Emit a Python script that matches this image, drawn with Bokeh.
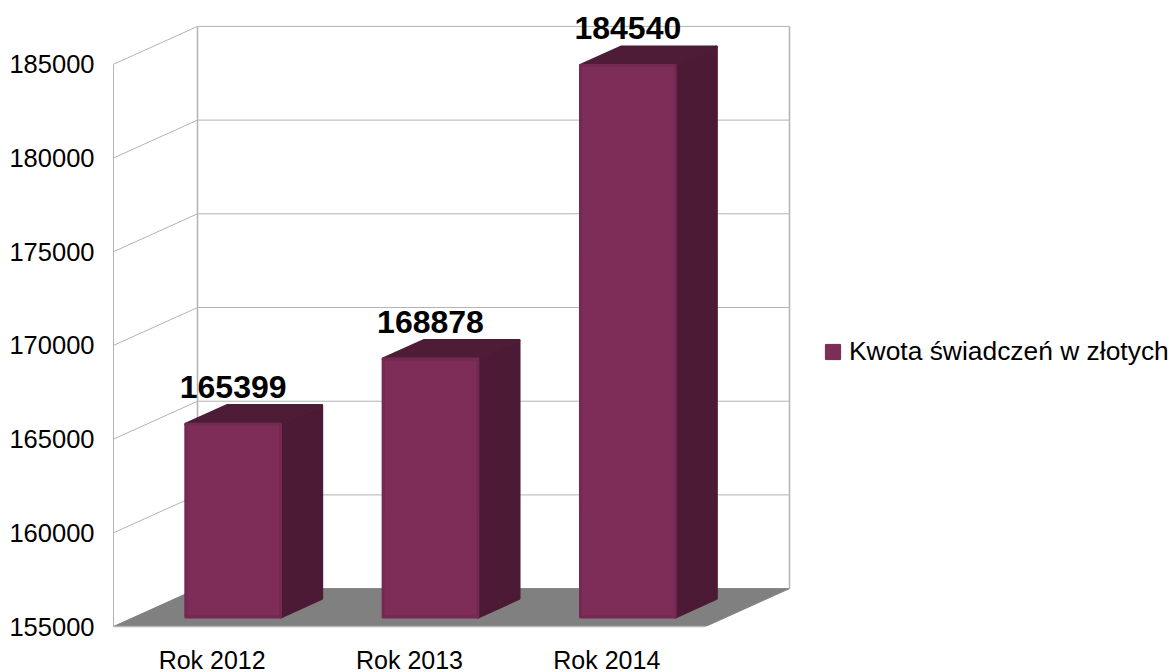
from bokeh.plotting import figure
from bokeh.embed import file_html
from bokeh.resources import INLINE
from bokeh.models import Range1d, FixedTicker, Legend, LegendItem, ColumnDataSource
from bokeh.core.properties import value

years = ["Rok 2012", "Rok 2013", "Rok 2014"]
amounts = [165399, 168878, 184540]
y_ticks = [155000, 160000, 165000, 170000, 175000, 180000, 185000]
series_name = "Kwota świadczeń w złotych"

FONT = "Liberation Sans"
W, H = 1173, 676
LEFT, BOTTOM = 113, 48          # frame insets, px
PX_CAT, PX_VAL = 592 / 3, 94 / 5000   # px per category, px per value unit
DX, DY = 84 / PX_CAT, 38 / PX_VAL     # oblique depth vector
GRID, FLOOR = "#b3b3b3", "#808080"
FRONT, SIDE, TOP, EDGE = "#7e2c58", "#4c1a35", "#4f1c38", "#742950"
BAR_W = 0.48
D0, D1 = 0.25, 0.74
STROKE_Y = 2 / PX_VAL           # keeps the rounded stroke inside the bar's value

base = y_ticks[0]
xmax = (W - LEFT) / PX_CAT
ymax = base + (H - BOTTOM) / PX_VAL
n = len(years)

p = figure(width=W, height=H, output_backend="svg", toolbar_location=None,
           x_range=Range1d(0, xmax), y_range=Range1d(base, ymax),
           min_border_left=LEFT, min_border_bottom=BOTTOM, min_border_right=0, min_border_top=0,
           outline_line_color=None, margin=(0, 0, -4, 0))
p.grid.visible = False

# floor
p.patch([0, n, n + DX, DX], [base, base, base + DY, base + DY], fill_color=FLOOR, line_color=FLOOR, line_width=1)

# walls
for v in y_ticks[1:]:
    p.line([0, DX, n + DX], [v, v + DY, v + DY], line_color=GRID, line_width=1)
p.line([DX, DX], [base + DY, y_ticks[-1] + DY], line_color=GRID, line_width=1.5)
p.line([n + DX, n + DX], [base + DY, y_ticks[-1] + DY], line_color=GRID, line_width=1.5)

# bars
for i, amount in enumerate(amounts):
    xl = i + 0.5 - BAR_W / 2 + D0 * DX
    xr = xl + BAR_W
    y0 = base + D0 * DY
    y1 = amount + D0 * DY - STROKE_Y
    ox, oy = (D1 - D0) * DX, (D1 - D0) * DY
    p.patch([xr, xr + ox, xr + ox, xr], [y0, y0 + oy, y1 + oy, y1],
            fill_color=SIDE, line_color=SIDE, line_width=3, line_join="round")
    p.patch([xl, xl + ox, xr + ox, xr], [y1, y1 + oy, y1 + oy, y1],
            fill_color=TOP, line_color=TOP, line_width=3, line_join="round")
    p.patch([xl, xr, xr, xl], [y0, y0, y1, y1],
            fill_color=FRONT, line_color=EDGE, line_width=3, line_join="round")

# data labels
src = ColumnDataSource(dict(
    x=[i + 0.5 + D0 * DX for i in range(n)],
    y=[a + D0 * DY for a in amounts],
    t=[str(a) for a in amounts]))
p.text("x", "y", text="t", source=src, text_font=value(FONT), text_font_style="bold",
       text_font_size="32px", text_color="#000000", text_align="center",
       text_baseline="middle", y_offset=-35)

# legend
swatch = p.rect([-5], [base], width=0.01, height=1, fill_color=FRONT, line_color=EDGE)
legend = Legend(items=[LegendItem(label=series_name, renderers=[swatch])],
                location=(710, 259), border_line_color=None, background_fill_alpha=0,
                label_text_font=FONT, label_text_font_size="26.4px", label_text_color="#000000",
                glyph_width=19, glyph_height=19, label_standoff=7, padding=0, margin=0,
                label_height=16)
p.add_layout(legend, "center")

# axes
p.yaxis.ticker = FixedTicker(ticks=y_ticks)
p.yaxis.bounds = (y_ticks[0], y_ticks[-1])
p.yaxis.formatter.use_scientific = False
p.yaxis.major_label_text_font = FONT
p.yaxis.major_label_text_font_size = "25.5px"
p.yaxis.major_label_text_color = "#000000"
p.yaxis.axis_line_color = GRID
p.yaxis.major_tick_line_color = None
p.yaxis.minor_tick_line_color = None
p.yaxis.major_tick_out = 0
p.yaxis.major_tick_in = 0
p.yaxis.minor_tick_out = 0
p.yaxis.minor_tick_in = 0
p.yaxis.major_label_standoff = 19

p.xaxis.ticker = FixedTicker(ticks=[i + 0.5 for i in range(n)])
p.xaxis.major_label_overrides = {i + 0.5: years[i] for i in range(n)}
p.xaxis.bounds = (0, n)
p.xaxis.major_label_text_font = FONT
p.xaxis.major_label_text_font_size = "25px"
p.xaxis.major_label_text_color = "#000000"
p.xaxis.axis_line_color = GRID
p.xaxis.axis_line_width = 1.5
p.xaxis.major_tick_line_color = None
p.xaxis.minor_tick_line_color = None
p.xaxis.major_tick_out = 0
p.xaxis.major_tick_in = 0
p.xaxis.minor_tick_out = 0
p.xaxis.minor_tick_in = 0
p.xaxis.major_label_standoff = 19

open("out.html", "w").write(file_html(p, INLINE))
